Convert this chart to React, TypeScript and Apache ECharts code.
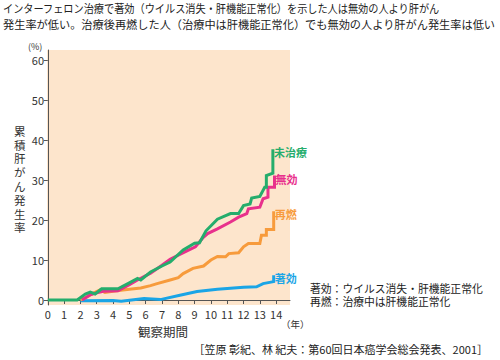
import React, { useEffect, useRef } from "react";
import * as echarts from "echarts";

const FONT = '"Noto Sans CJK JP", "Noto Sans", sans-serif';

const titleLine1 = "インターフェロン治療で著効（ウイルス消失・肝機能正常化）を示した人は無効の人より肝がん";
const titleLine2 = "発生率が低い。治療後再燃した人（治療中は肝機能正常化）でも無効の人より肝がん発生率は低い";
const yAxisTitle = "累積肝がん発生率";
const xAxisTitle = "観察期間";
const yUnit = "(%)";
const xUnit = "（年）";
const note1 = "著効：ウイルス消失・肝機能正常化";
const note2 = "再燃：治療中は肝機能正常化";
const source = "［笠原 彰紀、林 紀夫：第60回日本癌学会総会発表、2001］";

const yTicks = [0, 10, 20, 30, 40, 50, 60];
const xTicks = [0, 1, 2, 3, 4, 5, 6, 7, 8, 9, 10, 11, 12, 13, 14];

const seriesNames = ["未治療", "無効", "再燃", "著効"];
const seriesColors = ["#25ad6c", "#e8308c", "#f79b3c", "#1aa5e6"];

// [years, cumulative %]
const untreated = [
  [0, 0], [1.8, 0], [2.3, 1.5], [2.6, 2.0], [2.9, 1.5], [3.3, 2.8], [4.3, 2.8],
  [5.0, 4.3], [5.5, 5.4], [5.7, 5.0], [6.3, 7.0], [7.0, 8.5], [7.5, 9.5],
  [8.3, 12.5], [9.0, 14.2], [9.3, 14.3], [9.7, 17.3], [10.4, 20.2], [11.2, 21.6],
  [11.7, 21.6], [12.0, 23.6], [12.4, 24.0], [12.5, 25.5], [13.0, 25.9],
  [13.3, 28.2], [13.4, 28.2], [13.4, 31.1], [13.8, 31.7], [13.8, 37.7],
];
const nonResponder = [
  [2.1, 0], [2.6, 1.3], [3.0, 1.8], [3.4, 2.2], [4.3, 2.3], [5.0, 3.8],
  [5.5, 5.0], [6.3, 6.7], [7.0, 8.7], [7.5, 10.2], [8.5, 12.2], [9.05, 13.3],
  [9.5, 15.5], [9.8, 16.6], [10.4, 17.8], [11.2, 19.5], [11.7, 20.7],
  [12.2, 21.6], [12.3, 22.8], [13.0, 23.2], [13.2, 25.3], [13.5, 25.7],
  [13.5, 28.2], [13.9, 28.2], [13.9, 31.1],
];
const relapse = [
  [2.0, 0], [2.4, 0.8], [2.8, 1.7], [3.2, 2.5], [3.5, 1.9], [4.0, 2.2],
  [4.6, 2.5], [5.0, 2.7], [5.7, 3.0], [6.3, 3.6], [6.7, 4.1], [7.5, 5.0],
  [8.0, 5.6], [8.3, 6.6], [8.9, 7.9], [9.55, 8.5], [10.0, 10.0], [10.4, 10.9],
  [10.9, 10.8], [11.1, 11.6], [11.7, 11.8], [12.0, 13.3], [12.3, 14.1],
  [13.0, 14.1], [13.1, 16.2], [13.4, 16.2], [13.4, 17.6], [13.85, 17.6],
  [13.85, 22.2],
];
const sustained = [
  [2.0, -0.2], [4.0, -0.1], [4.5, -0.3], [5.9, 0.4], [6.9, 0.1], [8.1, 1.2],
  [9.15, 2.1], [10.4, 2.7], [12.0, 3.2], [12.8, 3.3], [13.2, 4.1],
  [13.85, 4.6], [13.85, 6.2],
];

const seriesData = [untreated, nonResponder, relapse, sustained];

export default function App() {
  const ref = useRef<HTMLDivElement>(null);
  useEffect(() => {
    if (!ref.current) return;
    document.body.style.margin = "0";
    const chart = echarts.init(ref.current, null, { renderer: "svg" });
    const drawOrder = [3, 2, 1, 0];
    const yChars = yAxisTitle.split("");
    chart.setOption({
      animation: false,
      textStyle: { fontFamily: FONT },
      grid: {
        left: 47,
        right: 210,
        top: 50,
        bottom: 55,
        show: true,
        backgroundColor: "#fde5cc",
        borderWidth: 0,
      },
      xAxis: {
        type: "value",
        min: -0.05,
        max: 14.85,
        splitLine: { show: false },
        axisLine: { show: true, lineStyle: { color: "#555", width: 1 } },
        axisTick: { show: true, length: 4, lineStyle: { color: "#555" }, customValues: xTicks },
        axisLabel: { color: "#333", fontSize: 11, margin: 3, fontFamily: FONT, customValues: xTicks },
      },
      yAxis: {
        type: "value",
        min: -1.25,
        max: 62.5,
        splitLine: { show: false },
        axisLine: { show: true, lineStyle: { color: "#555", width: 1 } },
        axisTick: { show: true, length: 4, lineStyle: { color: "#555" }, customValues: yTicks },
        axisLabel: { color: "#333", fontSize: 11, margin: 3, fontFamily: FONT, customValues: yTicks },
      },
      series: drawOrder.map((i) => ({
        name: seriesNames[i],
        type: "line",
        data: seriesData[i],
        symbol: "none",
        lineStyle: { color: seriesColors[i], width: 3, join: "miter" },
        itemStyle: { color: seriesColors[i] },
        endLabel: {
          show: true,
          formatter: "{a}",
          color: seriesColors[i],
          fontSize: 11,
          fontWeight: "bold",
          fontFamily: FONT,
          distance: 1,
          offset: [0, 3],
        },
      })),
      graphic: [
        {
          type: "text",
          left: 3,
          top: 2,
          scaleX: 0.885,
          style: { text: titleLine1, fill: "#222", font: `11.5px ${FONT}` },
        },
        {
          type: "text",
          left: 3,
          top: 18,
          style: { text: titleLine2, fill: "#222", font: `11.2px ${FONT}` },
        },
        {
          type: "text",
          left: 28,
          top: 42,
          style: { text: yUnit, fill: "#333", font: `9px ${FONT}` },
        },
        ...yChars.map((ch, k) => ({
          type: "text",
          left: 14,
          top: 125 + k * 13.8,
          style: { text: ch, fill: "#333", font: `11.5px ${FONT}` },
        })),
        {
          type: "text",
          left: 138,
          top: 325,
          style: { text: xAxisTitle, fill: "#333", font: `12.5px ${FONT}` },
        },
        {
          type: "text",
          left: 281,
          top: 319,
          style: { text: xUnit, fill: "#333", font: `9.5px ${FONT}` },
        },
        {
          type: "text",
          left: 310,
          top: 282.5,
          style: { text: note1, fill: "#222", font: `10.8px ${FONT}` },
        },
        {
          type: "text",
          left: 310,
          top: 295.5,
          style: { text: note2, fill: "#222", font: `10.8px ${FONT}` },
        },
        {
          type: "text",
          right: 12,
          top: 343,
          style: { text: source, fill: "#222", font: `11px ${FONT}` },
        },
      ],
    });
    return () => chart.dispose();
  }, []);
  return <div ref={ref} style={{ width: 500, height: 360 }} />;
}
